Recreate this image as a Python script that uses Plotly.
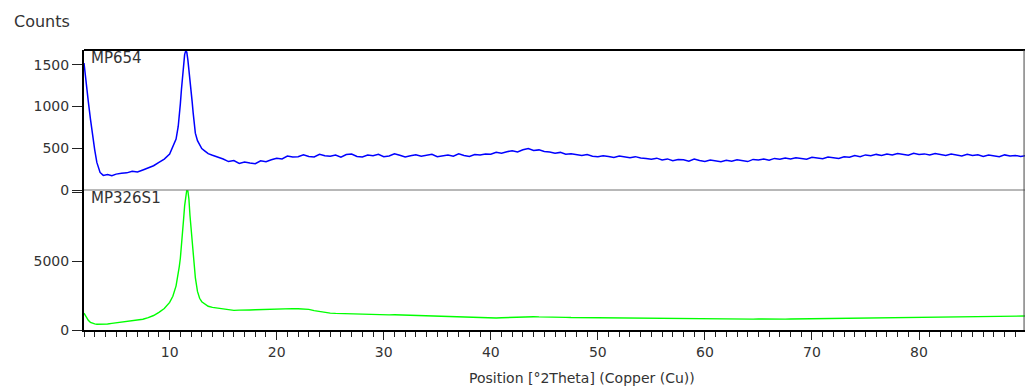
import plotly.graph_objects as go

# --- scan positions (°2Theta) ---
x_peak_region = [2.0, 2.2, 2.4, 2.6, 2.8, 3.0, 3.2, 3.5, 3.8, 4.2, 4.6, 5.0, 5.5, 6.0, 6.5, 7.0,
                 7.5, 8.0, 8.5, 9.0, 9.5, 10.0, 10.3, 10.6, 10.8, 10.9, 11.0, 11.1, 11.2, 11.3,
                 11.4, 11.5, 11.6, 11.7, 11.8, 11.9, 12.0, 12.1, 12.2, 12.3, 12.4, 12.6, 12.8,
                 13.0, 13.3, 13.6, 14.0]
x_flat_region = [14.5, 15.0, 15.5, 16.0, 16.5, 17.0, 17.5, 18.0, 18.5, 19.0, 19.5, 20.0, 20.5, 21.0,
                 21.5, 22.0, 22.5, 23.0, 23.5, 24.0, 24.5, 25.0, 25.5, 26.0, 26.5, 27.0, 27.5, 28.0,
                 28.5, 29.0, 29.5, 30.0, 30.5, 31.0, 31.5, 32.0, 32.5, 33.0, 33.5, 34.0, 34.5, 35.0,
                 35.5, 36.0, 36.5, 37.0, 37.5, 38.0, 38.5, 39.0, 39.5, 40.0, 40.5, 41.0, 41.5, 42.0,
                 42.5, 43.0, 43.5, 44.0, 44.5, 45.0, 45.5, 46.0, 46.5, 47.0, 47.5, 48.0, 48.5, 49.0,
                 49.5, 50.0, 50.5, 51.0, 51.5, 52.0, 52.5, 53.0, 53.5, 54.0, 54.5, 55.0, 55.5, 56.0,
                 56.5, 57.0, 57.5, 58.0, 58.5, 59.0, 59.5, 60.0, 60.5, 61.0, 61.5, 62.0, 62.5, 63.0,
                 63.5, 64.0, 64.5, 65.0, 65.5, 66.0, 66.5, 67.0, 67.5, 68.0, 68.5, 69.0, 69.5, 70.0,
                 70.5, 71.0, 71.5, 72.0, 72.5, 73.0, 73.5, 74.0, 74.5, 75.0, 75.5, 76.0, 76.5, 77.0,
                 77.5, 78.0, 78.5, 79.0, 79.5, 80.0, 80.5, 81.0, 81.5, 82.0, 82.5, 83.0, 83.5, 84.0,
                 84.5, 85.0, 85.5, 86.0, 86.5, 87.0, 87.5, 88.0, 88.5, 89.0, 89.5, 90.0]

# --- MP654 counts ---
mp654_peak = [1520, 1250, 1060, 850, 640, 480, 330, 210, 175, 185, 170, 190, 200, 205, 225, 215,
              240, 262, 290, 330, 370, 430, 510, 610, 760, 870, 1030, 1200, 1380, 1530,
              1620, 1665, 1650, 1560, 1450, 1330, 1180, 1060, 920, 790, 680, 590, 535,
              495, 465, 435, 415]
mp654_flat = [395, 371, 340, 352, 318, 334, 322, 314, 350, 338, 362, 381, 372, 406,
              394, 399, 421, 402, 395, 428, 410, 404, 419, 392, 425, 431, 401, 396,
              418, 409, 426, 398, 407, 432, 415, 395, 410, 422, 403, 417, 428, 399,
              412, 419, 405, 433, 414, 402, 424, 418, 431, 427, 452, 441, 458, 470,
              456, 481, 495, 473, 480, 462, 455, 441, 450, 428, 433, 419, 412, 424,
              405, 398, 411, 402, 390, 407, 396, 385, 399, 382, 376, 368, 381, 359,
              372, 350, 366, 362, 345, 370, 352, 341, 360, 348, 339, 356, 344, 362,
              351, 340, 366, 358, 371, 355, 378, 369, 384, 372, 386, 379, 368, 392,
              381, 374, 395, 386, 378, 398, 391, 412, 399, 420, 409, 426, 414, 431,
              418, 436, 422, 415, 438, 425, 432, 418, 437, 421, 412, 430, 417, 408,
              426, 413, 421, 402, 418, 409, 397, 420, 406, 414, 401, 412]

# --- MP326S1 counts ---
mp326_peak = [1220, 900, 700, 560, 480, 440, 420, 410, 415, 440, 480, 520, 560, 600, 640, 700,
              780, 900, 1050, 1280, 1560, 2000, 2450, 3200, 4000, 4600, 5200, 6000, 7000, 8000,
              9000, 9800, 10150, 10100, 9500, 8300, 7300, 6300, 5300, 4500, 3800, 2800, 2300,
              2050, 1850, 1720, 1640]
mp326_flat = [1580, 1495, 1460, 1425, 1438, 1420, 1452, 1466, 1481, 1510, 1522, 1558, 1566, 1580,
              1552, 1541, 1515, 1498, 1405, 1335, 1268, 1226, 1204, 1190, 1172, 1168, 1148, 1152,
              1131, 1136, 1118, 1114, 1096, 1102, 1088, 1090, 1071, 1066, 1047, 1032, 1008, 994,
              972, 968, 951, 944, 926, 918, 902, 898, 881, 884, 872, 886, 905, 934,
              948, 962, 958, 966, 950, 953, 938, 936, 921, 918, 902, 898, 881, 877,
              862, 865, 851, 856, 842, 848, 836, 842, 829, 835, 824, 830, 818, 826,
              814, 822, 810, 818, 806, 815, 803, 812, 800, 809, 798, 806, 795, 804,
              792, 801, 790, 799, 788, 797, 787, 796, 789, 801, 806, 818, 812, 829,
              824, 841, 836, 852, 847, 864, 858, 876, 869, 888, 882, 905, 898, 921,
              915, 929, 921, 934, 928, 941, 933, 947, 940, 952, 946, 958, 951, 964,
              957, 969, 962, 975, 970, 984, 978, 992, 987, 1003, 998, 1015]

x_ticks = [10, 20, 30, 40, 50, 60, 70, 80]
top_ticks = [0, 500, 1000, 1500]
bottom_ticks = [0, 5000, 10000]
bottom_ticktext = ["0", "5000", ""]

two_theta = x_peak_region + x_flat_region
mp654 = mp654_peak + mp654_flat
mp326 = mp326_peak + mp326_flat

FONT = "DejaVu Sans"
TXT = "#333333"

fig = go.Figure()
fig.add_trace(go.Scatter(x=two_theta, y=mp326, mode="lines", xaxis="x", yaxis="y",
                         line=dict(color="#00ff00", width=1.4), showlegend=False))
fig.add_trace(go.Scatter(x=two_theta, y=mp654, mode="lines", xaxis="x", yaxis="y2",
                         line=dict(color="#0000ff", width=1.5), showlegend=False))

fig.update_layout(
    width=1026, height=389,
    margin=dict(l=84, r=1, t=50, b=59),
    paper_bgcolor="white", plot_bgcolor="white",
    font=dict(family=FONT, size=14, color=TXT),
    xaxis=dict(range=[2.0, 89.9], tickvals=x_ticks, ticks="outside", ticklen=8,
               tickcolor="#222", tickwidth=1, showline=True, linecolor="black", linewidth=2,
               showgrid=False, zeroline=False, anchor="y",
               minor=dict(ticks="outside", ticklen=5, dtick=1, tickcolor="#222", tickwidth=1, showgrid=False),
               tickfont=dict(family=FONT, size=14, color=TXT)),
    yaxis=dict(domain=[0, 0.5], range=[0, 10150], tickvals=bottom_ticks, ticktext=bottom_ticktext,
               ticks="outside", ticklen=10, tickcolor="#222", showline=True, linecolor="black",
               linewidth=2, showgrid=False, zeroline=False, anchor="x",
               tickfont=dict(family=FONT, size=14, color=TXT)),
    yaxis2=dict(domain=[0.5, 1], range=[0, 1675], tickvals=top_ticks,
                ticks="outside", ticklen=10, tickcolor="#222", showline=True, linecolor="black",
                linewidth=2, showgrid=False, zeroline=False, anchor="x",
                tickfont=dict(family=FONT, size=14, color=TXT)),
    shapes=[
        dict(type="line", xref="paper", yref="paper", x0=0, x1=1, y0=1, y1=1,
             line=dict(color="black", width=2)),
        dict(type="line", xref="paper", yref="paper", x0=0, x1=1, y0=0.5, y1=0.5,
             line=dict(color="#707070", width=1)),
        dict(type="line", xref="paper", yref="paper", x0=0.999, x1=0.999, y0=0, y1=1,
             line=dict(color="#444", width=1)),
    ],
    annotations=[
        dict(text="Counts", xref="paper", yref="paper", x=-0.0765, y=1.1, xanchor="left",
             yanchor="middle", showarrow=False, font=dict(family=FONT, size=16, color=TXT)),
        dict(text="MP654", xref="paper", yref="paper", x=0.005, y=0.971, xanchor="left",
             yanchor="middle", showarrow=False, font=dict(family=FONT, size=15, color=TXT)),
        dict(text="MP326S1", xref="paper", yref="paper", x=0.005, y=0.471, xanchor="left",
             yanchor="middle", showarrow=False, font=dict(family=FONT, size=15, color=TXT)),
        dict(text="Position [°2Theta] (Copper (Cu))", xref="paper", yref="paper", x=0.5287,
             y=-0.171, xanchor="center", yanchor="middle", showarrow=False,
             font=dict(family=FONT, size=14, color=TXT)),
    ],
)

fig.write_html("out.html")
